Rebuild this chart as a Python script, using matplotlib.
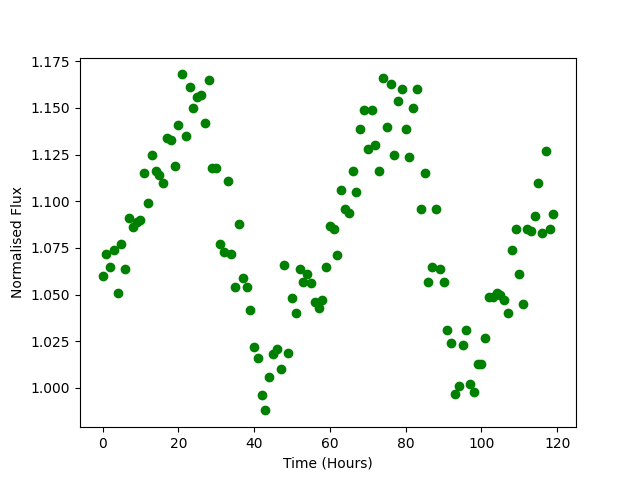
import matplotlib
matplotlib.use("Agg")
import matplotlib.pyplot as plt
import numpy as np

hours = list(range(120))
flux = [
    1.060, 1.072, 1.065, 1.074, 1.051, 1.077, 1.064, 1.091, 1.086, 1.089,
    1.090, 1.115, 1.099, 1.125, 1.116, 1.114, 1.110, 1.134, 1.133, 1.119,
    1.141, 1.168, 1.135, 1.161, 1.150, 1.156, 1.157, 1.142, 1.165, 1.118,
    1.118, 1.077, 1.073, 1.111, 1.072, 1.054, 1.088, 1.059, 1.054, 1.042,
    1.022, 1.016, 0.996, 0.988, 1.006, 1.018, 1.021, 1.010, 1.066, 1.019,
    1.048, 1.040, 1.064, 1.057, 1.061, 1.056, 1.046, 1.043, 1.047, 1.065,
    1.087, 1.085, 1.071, 1.106, 1.096, 1.094, 1.116, 1.105, 1.139, 1.149,
    1.128, 1.149, 1.130, 1.116, 1.166, 1.140, 1.163, 1.125, 1.154, 1.160,
    1.139, 1.124, 1.150, 1.160, 1.096, 1.115, 1.057, 1.065, 1.096, 1.064,
    1.057, 1.031, 1.024, 0.997, 1.001, 1.023, 1.031, 1.002, 0.998, 1.013,
    1.013, 1.027, 1.049, 1.049, 1.051, 1.050, 1.047, 1.040, 1.074, 1.085,
    1.061, 1.045, 1.085, 1.084, 1.092, 1.110, 1.083, 1.127, 1.085, 1.093,
]

fig, ax = plt.subplots(figsize=(6.4, 4.8), dpi=100)
ax.plot(hours, flux, 'go')
ax.set_xlabel("Time (Hours)")
ax.set_ylabel("Normalised Flux")
fig.savefig("out.png")
